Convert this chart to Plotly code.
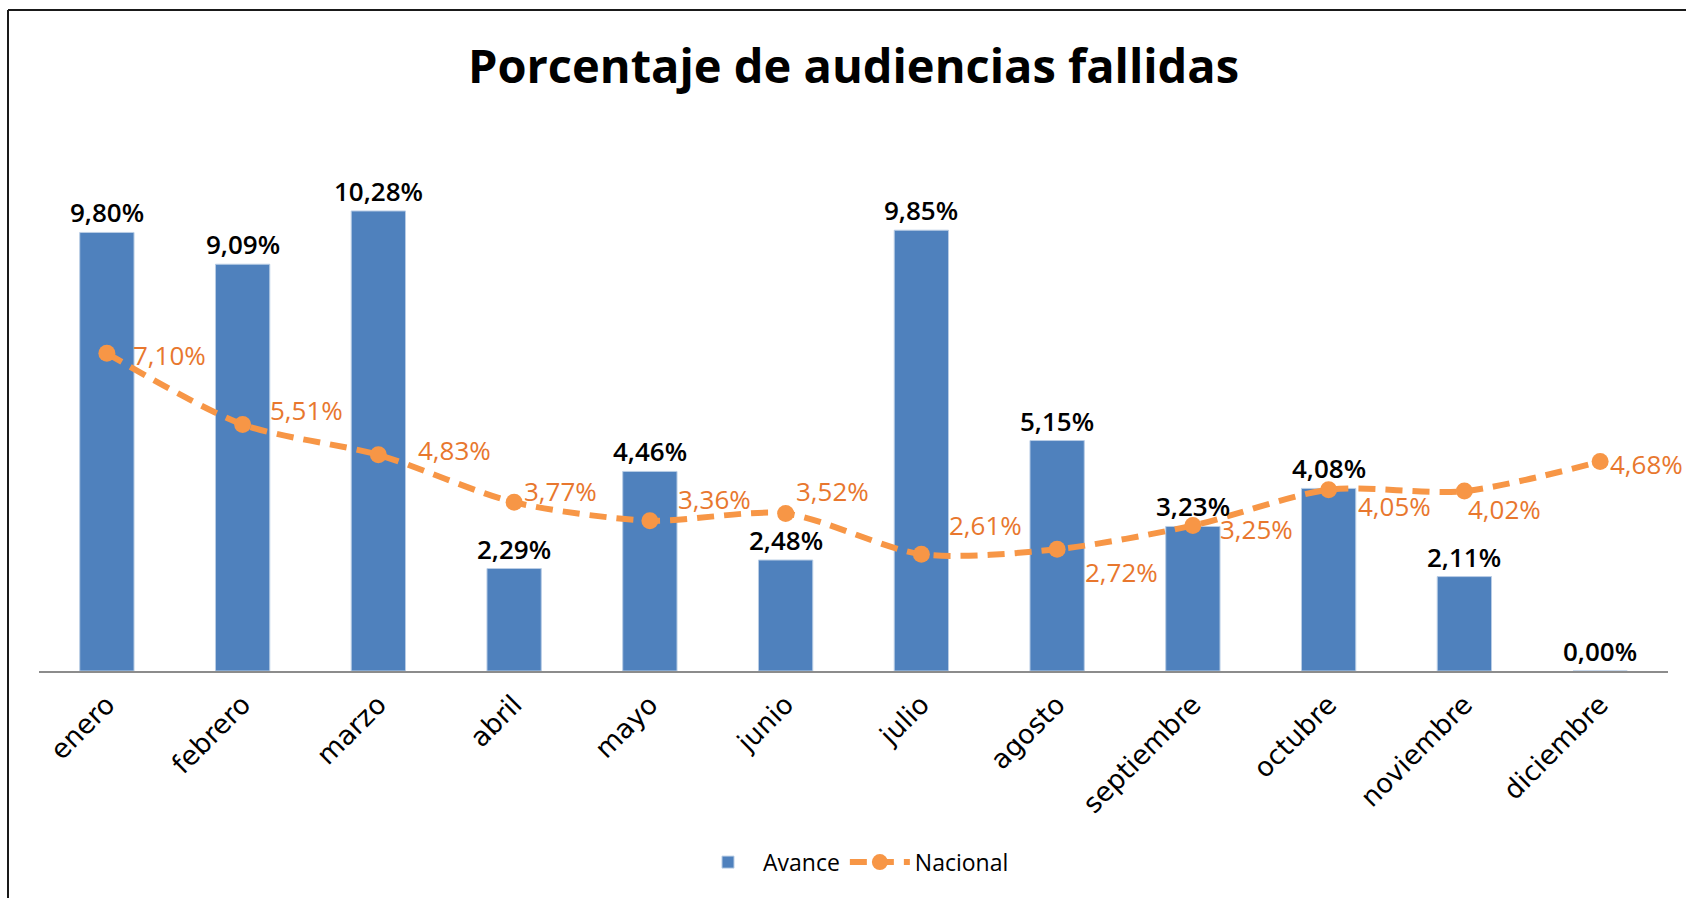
import plotly.graph_objects as go

months = ["enero", "febrero", "marzo", "abril", "mayo", "junio", "julio",
          "agosto", "septiembre", "octubre", "noviembre", "diciembre"]
avance = [9.80, 9.09, 10.28, 2.29, 4.46, 2.48, 9.85, 5.15, 3.23, 4.08, 2.11, 0.00]
nacional = [7.10, 5.51, 4.83, 3.77, 3.36, 3.52, 2.61, 2.72, 3.25, 4.05, 4.02, 4.68]

# label offsets (pixels) for the Nacional data labels: (xshift, yshift)
nac_label_offsets = [(24, -2), (25, 14), (38, 5), (8, 11), (26, 22), (8, 22),
                     (26, 29), (26, -23), (25, -3), (27, -16), (2, -18), (8, -2)]

BAR_COLOR = "#4F81BD"
LINE_COLOR = "#F79646"
LABEL_ORANGE = "#E8772E"


def fmt(v):
    return f"{v:.2f}".replace(".", ",") + "%"


fig = go.Figure()
fig.add_trace(go.Bar(
    x=months, y=avance, name="Avance",
    marker=dict(color=BAR_COLOR, line=dict(color="#B9CDE5", width=1)),
    width=0.4,
))
fig.add_trace(go.Scatter(
    x=months, y=nacional, name="Nacional", mode="lines+markers",
    line=dict(color=LINE_COLOR, width=6, dash="17px,10px", shape="spline", smoothing=0.8),
    marker=dict(color=LINE_COLOR, size=17),
))

annotations = []
for m, v in zip(months, avance):
    annotations.append(dict(
        x=m, y=v, xref="x", yref="y", text=fmt(v), showarrow=False,
        yanchor="bottom", xanchor="center", yshift=0,
        font=dict(family="Open Sans", size=26, color="#000000", weight=600),
    ))
for m, v, (dx, dy) in zip(months, nacional, nac_label_offsets):
    annotations.append(dict(
        x=m, y=v, xref="x", yref="y", text=fmt(v), showarrow=False,
        yanchor="middle", xanchor="left", xshift=dx, yshift=dy,
        font=dict(family="Open Sans", size=26, color=LABEL_ORANGE),
    ))

fig.update_layout(
    width=1686, height=898,
    margin=dict(l=39, r=18, t=134, b=227),
    paper_bgcolor="white", plot_bgcolor="white",
    title=dict(
        text="<b>Porcentaje de audiencias fallidas</b>",
        x=0.5, xref="paper", xanchor="center",
        y=1 - 67 / 898, yref="container", yanchor="middle",
        font=dict(family="Open Sans", size=47, color="#000000"),
    ),
    xaxis=dict(
        showline=True, linecolor="#8C8C8C", linewidth=2,
        showgrid=False, ticks="", tickangle=-45,
        tickfont=dict(family="DejaVu Sans", size=27, color="#000000"),
        ticklabelstandoff=5,
        range=[-0.5, 11.5], fixedrange=True,
    ),
    yaxis=dict(visible=False, range=[0, 12], showgrid=False, zeroline=False),
    legend=dict(
        orientation="h", x=0.5, xanchor="center", y=-0.356, yanchor="middle",
        font=dict(family="Open Sans", size=23, color="#000000"),
        itemwidth=60,
    ),
    annotations=annotations,
    bargap=0.6,
    shapes=[
        dict(type="line", xref="paper", yref="paper",
             x0=(8 - 39) / 1629, x1=1.2, y0=(671 - 10) / 537, y1=(671 - 10) / 537,
             line=dict(color="#1A1A1A", width=2)),
        dict(type="line", xref="paper", yref="paper",
             x0=(8 - 39) / 1629, x1=(8 - 39) / 1629, y0=(671 - 10) / 537, y1=-1.0,
             line=dict(color="#1A1A1A", width=2)),
    ],
)

fig.write_html("out.html", config={"displayModeBar": False},
               post_script="document.body.style.margin='0';")
